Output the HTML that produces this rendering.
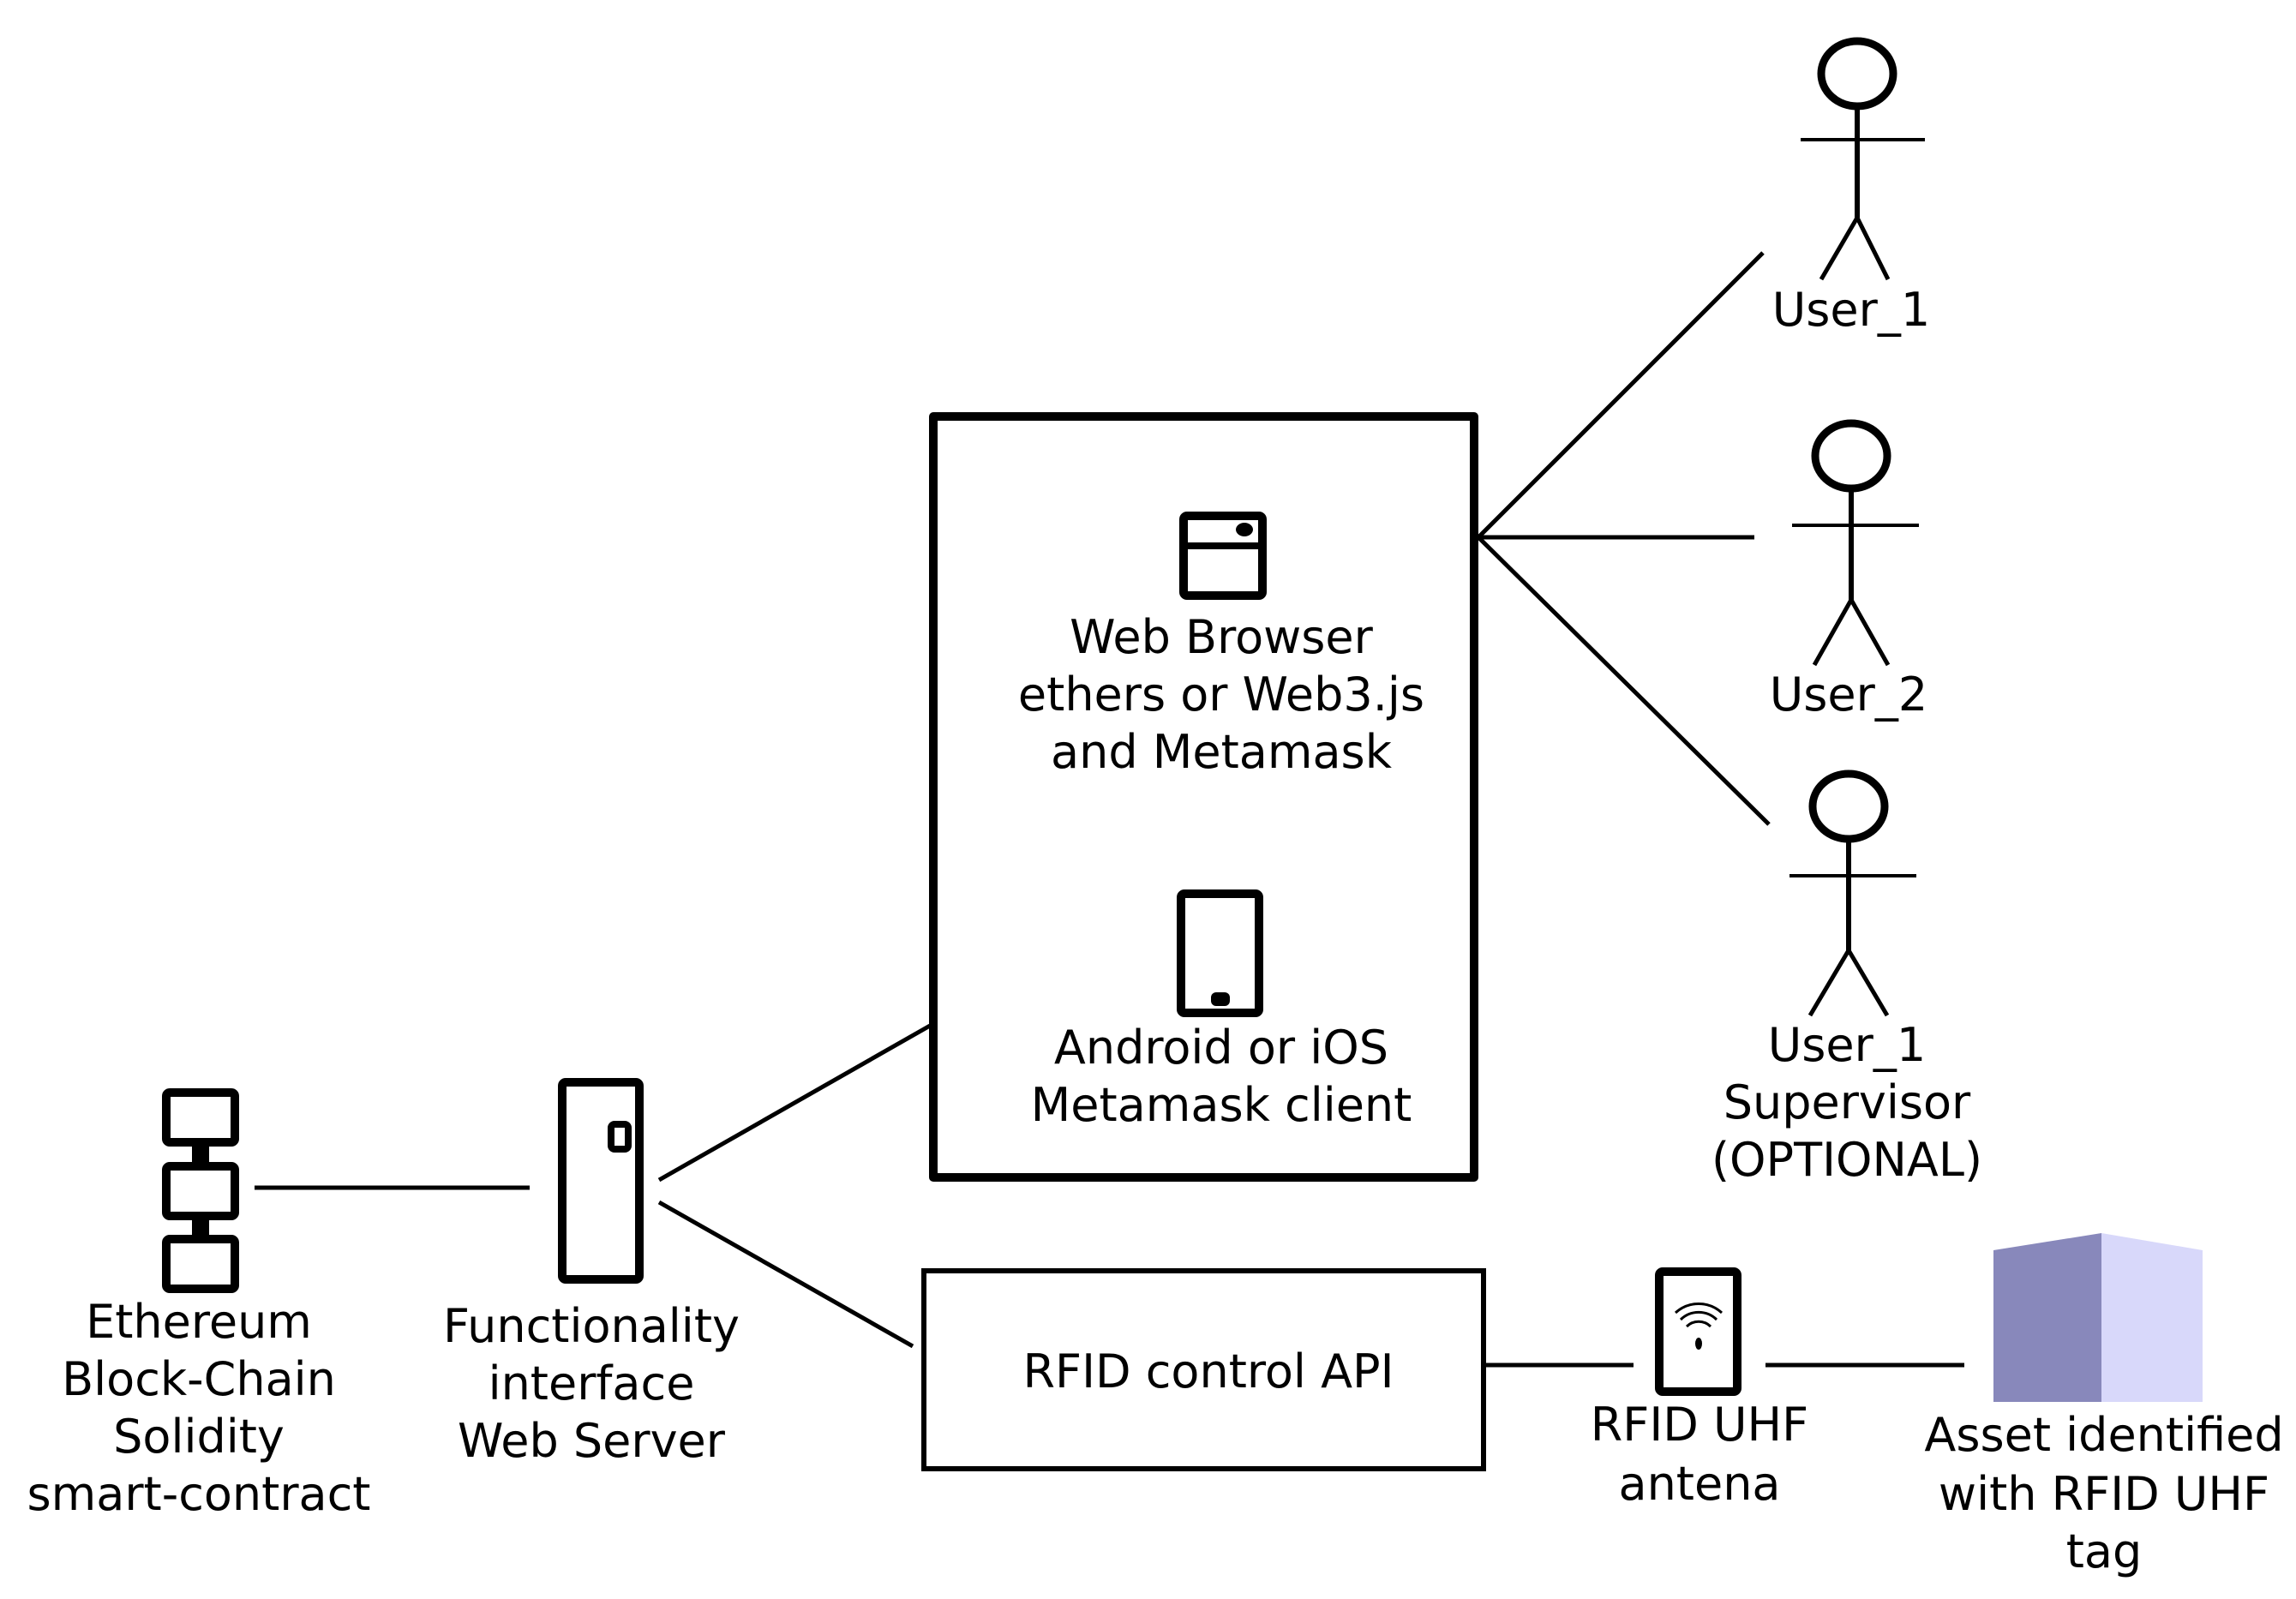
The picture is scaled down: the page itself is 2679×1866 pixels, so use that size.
<!DOCTYPE html>
<html><head><meta charset="utf-8"><style>html,body{margin:0;padding:0;background:#fff}svg{display:block}</style></head>
<body>
<svg width="2679" height="1866" viewBox="0 0 2679 1866" xmlns="http://www.w3.org/2000/svg" font-family="DejaVu Sans, Liberation Sans, sans-serif" font-size="54" text-anchor="middle" fill="#000">
<!-- main box -->
<rect x="1089" y="486" width="631" height="888" fill="none" stroke="#000" stroke-width="10" stroke-linejoin="round"/>
<!-- browser icon -->
<rect x="1381" y="602" width="92" height="93" rx="4" fill="none" stroke="#000" stroke-width="10"/>
<line x1="1381" y1="637" x2="1473" y2="637" stroke="#000" stroke-width="8"/>
<ellipse cx="1452" cy="618" rx="10" ry="8" fill="#000"/>
<text x="1425" y="762">Web Browser</text>
<text x="1425" y="829">ethers or Web3.js</text>
<text x="1425" y="896">and Metamask</text>
<!-- phone -->
<rect x="1378" y="1043" width="91" height="139" rx="4" fill="none" stroke="#000" stroke-width="10"/>
<rect x="1413" y="1158" width="22" height="16" rx="6" fill="#000"/>
<text x="1425" y="1241">Android or iOS</text>
<text x="1425" y="1308">Metamask client</text>
<!-- lines to actors -->
<g stroke="#000" stroke-width="5" fill="none">
<line x1="1725" y1="627" x2="2057" y2="295"/>
<line x1="1725" y1="627" x2="2047" y2="627"/>
<line x1="1725" y1="627" x2="2064" y2="962"/>
</g>
<!-- actors -->
<g stroke="#000" fill="none">
<ellipse cx="2167" cy="86" rx="42" ry="38" stroke-width="9"/>
<line x1="2101" y1="163" x2="2246" y2="163" stroke-width="4"/>
<line x1="2167" y1="124" x2="2167" y2="254" stroke-width="6"/>
<polyline points="2125,326 2167,254 2203,326" stroke-width="5"/>
<ellipse cx="2160" cy="532" rx="42" ry="38" stroke-width="9"/>
<line x1="2091" y1="613" x2="2239" y2="613" stroke-width="4"/>
<line x1="2160" y1="570" x2="2160" y2="700" stroke-width="6"/>
<polyline points="2117,776 2160,700 2203,776" stroke-width="5"/>
<ellipse cx="2157" cy="941" rx="42" ry="38" stroke-width="9"/>
<line x1="2088" y1="1022" x2="2236" y2="1022" stroke-width="4"/>
<line x1="2157" y1="979" x2="2157" y2="1109" stroke-width="6"/>
<polyline points="2112,1185 2157,1109 2202,1185" stroke-width="5"/>
</g>
<text x="2160" y="380">User_1</text>
<text x="2157" y="829">User_2</text>
<text x="2155" y="1238">User_1</text>
<text x="2155" y="1305">Supervisor</text>
<text x="2155" y="1372">(OPTIONAL)</text>
<!-- blockchain -->
<g stroke="#000" stroke-width="10" fill="none">
<rect x="194" y="1275" width="80" height="58" rx="4"/>
<rect x="194" y="1361" width="80" height="58" rx="4"/>
<rect x="194" y="1446" width="80" height="58" rx="4"/>
</g>
<rect x="224" y="1333" width="20" height="28" fill="#000"/>
<rect x="224" y="1419" width="20" height="27" fill="#000"/>
<line x1="297" y1="1386" x2="618" y2="1386" stroke="#000" stroke-width="5"/>
<text x="232" y="1561">Ethereum</text>
<text x="232" y="1628">Block-Chain</text>
<text x="232" y="1695">Solidity</text>
<text x="232" y="1762">smart-contract</text>
<!-- server -->
<rect x="656" y="1263" width="90" height="230" rx="4" fill="none" stroke="#000" stroke-width="10"/>
<rect x="713" y="1312" width="20" height="29" rx="4" fill="none" stroke="#000" stroke-width="8"/>
<g stroke="#000" stroke-width="5">
<line x1="769" y1="1377" x2="1085" y2="1197"/>
<line x1="769" y1="1403" x2="1065" y2="1571"/>
</g>
<text x="690" y="1566">Functionality</text>
<text x="690" y="1633">interface</text>
<text x="690" y="1700">Web Server</text>
<!-- RFID box -->
<rect x="1078" y="1483" width="653" height="231" fill="none" stroke="#000" stroke-width="6"/>
<text x="1410" y="1619">RFID control API</text>
<line x1="1734" y1="1593" x2="1906" y2="1593" stroke="#000" stroke-width="5"/>
<line x1="2060" y1="1593" x2="2292" y2="1593" stroke="#000" stroke-width="5"/>
<!-- antenna -->
<rect x="1936" y="1484" width="91" height="140" rx="4" fill="none" stroke="#000" stroke-width="10"/>
<g stroke="#000" stroke-width="3" fill="none">
<path d="M1968,1548 A20,20 0 0 1 1996,1548"/>
<path d="M1961,1540 A30,30 0 0 1 2003,1540"/>
<path d="M1955,1532 A40,40 0 0 1 2009,1532"/>
</g>
<ellipse cx="1982" cy="1568" rx="4" ry="7" fill="#000"/>
<text x="1983" y="1681">RFID UHF</text>
<text x="1983" y="1750">antena</text>
<!-- asset cube -->
<polygon points="2326,1459 2452,1439 2452,1636 2326,1636" fill="#8888bb"/>
<polygon points="2452,1439 2570,1459 2570,1636 2452,1636" fill="#d8d8fa"/>
<text x="2455" y="1693">Asset identified</text>
<text x="2455" y="1762">with RFID UHF</text>
<text x="2455" y="1829">tag</text>
</svg>
</body></html>
